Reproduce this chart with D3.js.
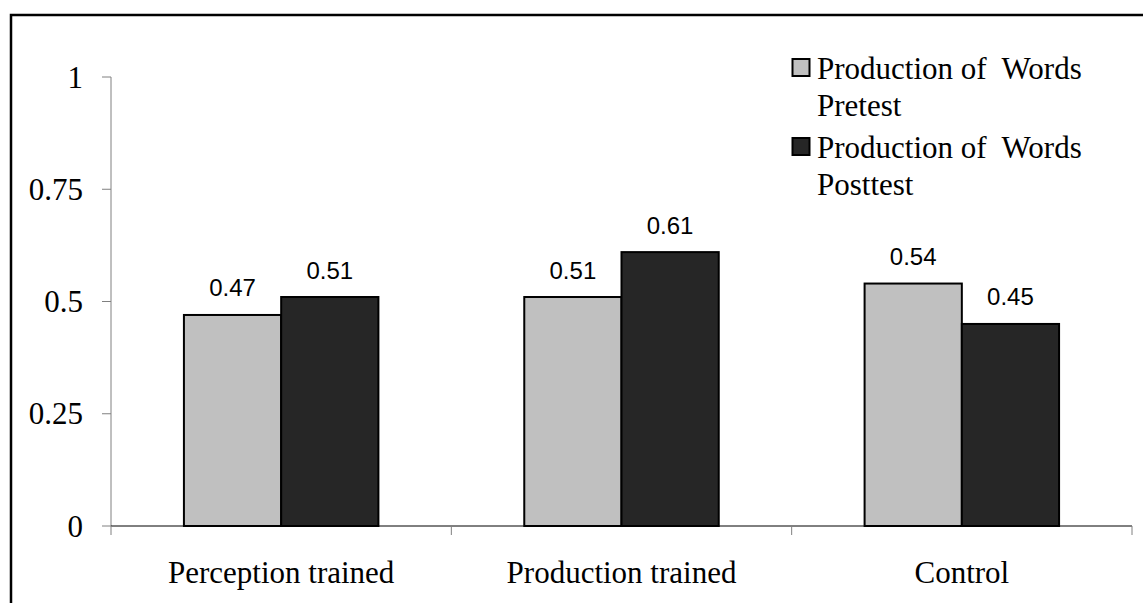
<!DOCTYPE html>
<html>
<head>
<meta charset="utf-8">
<script src="https://cdn.jsdelivr.net/npm/d3@7/dist/d3.min.js"></script>
<style>
  html, body { margin: 0; padding: 0; background: #fff; }
  svg { display: block; }
  .serif { font-family: "Liberation Serif", "Times New Roman", serif; }
  .sans { font-family: "Liberation Sans", Arial, sans-serif; }
</style>
</head>
<body>
<script>
// Mean proportion correct, production of words
const categories = ["Perception trained", "Production trained", "Control"];
const seriesNames = ["Production of  Words Pretest", "Production of  Words Posttest"];
const pretest = [0.47, 0.51, 0.54];
const posttest = [0.51, 0.61, 0.45];
const yTicks = [0, 0.25, 0.5, 0.75, 1];
const yTickLabels = ["0", "0.25", "0.5", "0.75", "1"];

const W = 1143, H = 603;
const colors = ["#c0c0c0", "#262626"];

const svg = d3.select("body").append("svg")
  .attr("width", W).attr("height", H);

// outer frame
svg.append("rect")
  .attr("x", 11).attr("y", 15)
  .attr("width", 1200).attr("height", 700)
  .attr("fill", "none").attr("stroke", "#000").attr("stroke-width", 2.5);

const plot = { left: 111, right: 1132, top: 77, bottom: 526 };

const x = d3.scaleBand().domain(categories)
  .range([plot.left, plot.right]).paddingInner(0).paddingOuter(0);
const xs = d3.scaleBand().domain([0, 1])
  .range([0, x.bandwidth()]).paddingInner(0).paddingOuter(0.75);
const y = d3.scaleLinear().domain([0, 1]).range([plot.bottom, plot.top]);

// y axis
svg.append("line")
  .attr("x1", plot.left).attr("x2", plot.left)
  .attr("y1", y(1)).attr("y2", y(0))
  .attr("stroke", "#808080").attr("stroke-width", 1);
const yt = svg.append("g");
yt.selectAll("line").data(yTicks).join("line")
  .attr("x1", plot.left - 9).attr("x2", plot.left)
  .attr("y1", d => y(d)).attr("y2", d => y(d))
  .attr("stroke", "#808080").attr("stroke-width", 1);
yt.selectAll("text").data(yTicks).join("text")
  .attr("class", "serif")
  .attr("x", 83).attr("y", d => y(d))
  .attr("dy", "0.34em")
  .attr("text-anchor", "end")
  .attr("font-size", 31)
  .attr("fill", "#000")
  .text((d, i) => yTickLabels[i]);

// bars
const rows = categories.map((c, i) => ({ c, vals: [pretest[i], posttest[i]] }));
const groups = svg.selectAll("g.grp").data(rows).join("g")
  .attr("class", "grp")
  .attr("transform", d => `translate(${x(d.c)},0)`);
groups.selectAll("rect").data(d => d.vals.map((v, k) => ({ v, k }))).join("rect")
  .attr("x", d => xs(d.k))
  .attr("y", d => y(d.v))
  .attr("width", xs.bandwidth())
  .attr("height", d => y(0) - y(d.v))
  .attr("fill", d => colors[d.k])
  .attr("stroke", "#000").attr("stroke-width", 2);
groups.selectAll("text").data(d => d.vals.map((v, k) => ({ v, k }))).join("text")
  .attr("class", "sans")
  .attr("x", d => xs(d.k) + xs.bandwidth() / 2)
  .attr("y", d => y(d.v) - 18.5)
  .attr("text-anchor", "middle")
  .attr("font-size", 24)
  .attr("fill", "#000")
  .text(d => d3.format(".2f")(d.v));

// x axis
svg.append("line")
  .attr("x1", plot.left).attr("x2", plot.right)
  .attr("y1", plot.bottom).attr("y2", plot.bottom)
  .attr("stroke", "#000").attr("stroke-width", 1);
const bounds = categories.map(c => x(c)).concat([plot.right]);
svg.append("g").selectAll("line").data(bounds).join("line")
  .attr("x1", d => d).attr("x2", d => d)
  .attr("y1", plot.bottom).attr("y2", plot.bottom + 9)
  .attr("stroke", "#808080").attr("stroke-width", 1);
svg.append("g").selectAll("text").data(categories).join("text")
  .attr("class", "serif")
  .attr("x", d => x(d) + x.bandwidth() / 2)
  .attr("y", 583)
  .attr("text-anchor", "middle")
  .attr("font-size", 31)
  .attr("fill", "#000")
  .text(d => d);

// legend
const legendRows = [
  { k: 0, lines: ["Production of  Words", "Pretest"], base: 79 },
  { k: 1, lines: ["Production of  Words", "Posttest"], base: 158 }
];
const lg = svg.append("g");
legendRows.forEach(r => {
  lg.append("rect")
    .attr("x", 792.5).attr("y", r.base - 20)
    .attr("width", 17).attr("height", 17)
    .attr("fill", colors[r.k])
    .attr("stroke", "#000").attr("stroke-width", 2);
  r.lines.forEach((t, j) => {
    lg.append("text")
      .attr("class", "serif")
      .attr("x", 817).attr("y", r.base + j * 36.5)
      .attr("font-size", 31)
      .attr("fill", "#000")
      .style("white-space", "pre")
      .text(t);
  });
});
</script>
</body>
</html>
